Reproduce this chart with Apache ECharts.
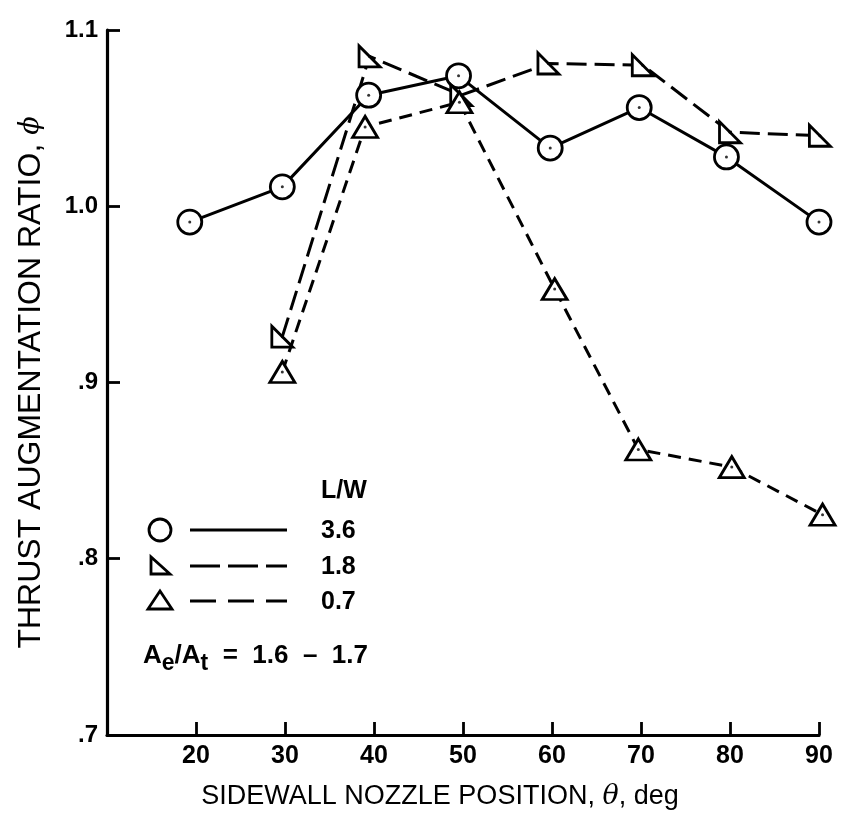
<!DOCTYPE html>
<html><head><meta charset="utf-8">
<script src="https://cdn.jsdelivr.net/npm/echarts@6/dist/echarts.min.js"></script>
<style>html,body{margin:0;padding:0;background:#fff}#c{width:846px;height:825px}</style>
</head><body><div id="c"></div>
<script>
// ---- data ----
const xTicks = [20, 30, 40, 50, 60, 70, 80, 90];
const yTicks = [0.7, 0.8, 0.9, 1.0, 1.1];
const yTickText = ['.7', '.8', '.9', '1.0', '1.1'];
const seriesNames = ['3.6', '1.8', '0.7'];
const lw36_x = [19.3, 29.7, 39.4, 49.5, 59.8, 69.8, 79.6, 90.0];
const lw36_y = [0.991, 1.011, 1.063, 1.074, 1.033, 1.056, 1.028, 0.991];
const lw18_x = [29.7, 39.5, 49.8, 59.6, 70.2, 80.0, 90.1];
const lw18_y = [0.926, 1.085, 1.063, 1.081, 1.080, 1.042, 1.040];
const lw07_x = [29.7, 39.0, 49.6, 60.3, 69.7, 80.2, 90.4];
const lw07_y = [0.906, 1.045, 1.059, 0.953, 0.862, 0.852, 0.825];

const zip = (xs, ys) => xs.map((x, i) => [x, ys[i]]);
const FONT = 'Liberation Sans';
const RIGHT_TRI = 'path://M0,0 L0,10 L10,10 Z';

function lineSeries(name, data, symbol, size, dash) {
  return {
    name, type: 'line', data, symbol, symbolSize: size, clip: false,
    lineStyle: { color: '#000', width: 3, type: dash },
    itemStyle: { color: '#fff', borderColor: '#000', borderWidth: 2.8 },
    z: 3
  };
}
function dotSeries(data) {
  return { type: 'scatter', data, symbol: 'circle', symbolSize: 3, clip: false,
    itemStyle: { color: '#000' }, z: 5, silent: true };
}

const chart = echarts.init(document.getElementById('c'), null, { renderer: 'canvas' });
const leg = (y, shape, dash, label) => {
  const els = [];
  if (shape === 'circle') els.push({ type: 'circle', shape: { cx: 160, cy: y, r: 11 }, style: { fill: '#fff', stroke: '#000', lineWidth: 2.8 } });
  if (shape === 'rtri') els.push({ type: 'polygon', shape: { points: [[151, y - 9], [151, y + 8], [170, y + 8]] }, style: { fill: '#fff', stroke: '#000', lineWidth: 2.8 } });
  if (shape === 'tri') els.push({ type: 'polygon', shape: { points: [[160, y - 10], [148, y + 8], [172, y + 8]] }, style: { fill: '#fff', stroke: '#000', lineWidth: 2.8 } });
  els.push({ type: 'line', shape: { x1: 190, y1: y, x2: 287, y2: y }, style: { stroke: '#000', lineWidth: 3.2, lineDash: dash } });
  els.push({ type: 'text', x: 321, y: y + 1, style: { text: label, font: 'bold 25px ' + FONT, fill: '#000', verticalAlign: 'middle' } });
  return els;
};

chart.setOption({
  animation: false,
  backgroundColor: '#fff',
  grid: { left: 107, top: 30, width: 712, height: 705 },
  xAxis: {
    type: 'value', min: 10, max: 90, interval: 10,
    name: 'SIDEWALL NOZZLE POSITION, {it|θ}, deg', nameLocation: 'middle', nameGap: 48,
    nameTextStyle: { fontFamily: FONT, fontSize: 27, color: '#000', padding: [0, 46, 0, 0],
      rich: { it: { fontFamily: 'DejaVu Serif', fontStyle: 'italic', fontSize: 27, color: '#000' } } },
    axisLine: { lineStyle: { color: '#000', width: 3.2 } },
    axisTick: { inside: true, length: 13, lineStyle: { color: '#000', width: 2.8 } },
    axisLabel: { fontFamily: FONT, fontWeight: 'bold', fontSize: 25, color: '#000', margin: 9,
      formatter: v => (xTicks.indexOf(v) >= 0 ? String(v) : '') },
    splitLine: { show: false }
  },
  yAxis: {
    type: 'value', min: 0.7, max: 1.1, interval: 0.1,
    name: 'THRUST AUGMENTATION RATIO, {it|ϕ}', nameLocation: 'middle', nameGap: 60,
    nameTextStyle: { fontFamily: FONT, fontSize: 32, color: '#000',
      rich: { it: { fontFamily: 'DejaVu Serif', fontStyle: 'italic', fontSize: 27, color: '#000' } } },
    axisLine: { lineStyle: { color: '#000', width: 3.2 } },
    axisTick: { inside: true, length: 13, lineStyle: { color: '#000', width: 2.8 } },
    axisLabel: { fontFamily: FONT, fontWeight: 'bold', fontSize: 24, color: '#000', margin: 9,
      formatter: v => { const i = yTicks.findIndex(t => Math.abs(t - v) < 1e-6); return i >= 0 ? yTickText[i] : ''; } },
    splitLine: { show: false }
  },
  series: [
    lineSeries(seriesNames[0], zip(lw36_x, lw36_y), 'circle', 24, 'solid'),
    lineSeries(seriesNames[1], zip(lw18_x, lw18_y), RIGHT_TRI, 21, [20, 8]),
    lineSeries(seriesNames[2], zip(lw07_x, lw07_y), 'triangle', [25, 21], [13, 8]),
    dotSeries(zip(lw36_x, lw36_y)),
    dotSeries(zip(lw18_x, lw18_y)),
    dotSeries(zip(lw07_x, lw07_y))
  ],
  graphic: [
    { type: 'text', x: 321, y: 491, style: { text: 'L/W', font: 'bold 25px ' + FONT, fill: '#000', verticalAlign: 'middle' } },
    ...leg(530, 'circle', null, seriesNames[0]),
    ...leg(566, 'rtri', [30, 8], seriesNames[1]),
    ...leg(601, 'tri', [26, 12], seriesNames[2]),
    { type: 'text', x: 143, y: 643, style: {
      text: '{n|A}{s|e}{n|/A}{s|t}{n|  =  1.6  –  1.7}',
      rich: {
        n: { font: 'bold 26px ' + FONT, fill: '#000', verticalAlign: 'top' },
        s: { font: 'bold 23px ' + FONT, fill: '#000', verticalAlign: 'top', padding: [9, 0, 0, 0] }
      } } }
  ]
});
</script></body></html>
